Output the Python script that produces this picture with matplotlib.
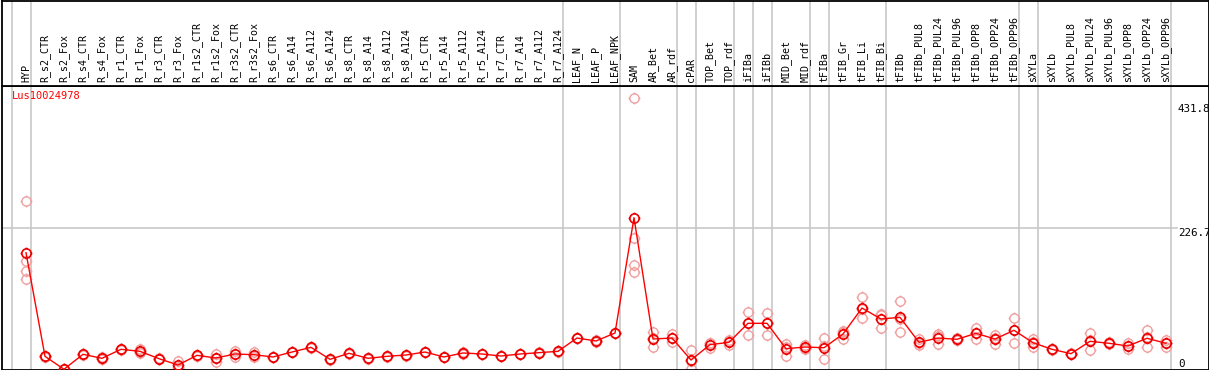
import matplotlib
matplotlib.use('Agg')
import matplotlib.pyplot as plt
from matplotlib.path import Path
from matplotlib.transforms import blended_transform_factory, offset_copy

gene = 'Lus10024978'

samples = ['HYP', 'R_s2_CTR', 'R_s2_Fox', 'R_s4_CTR', 'R_s4_Fox', 'R_r1_CTR', 'R_r1_Fox',
           'R_r3_CTR', 'R_r3_Fox', 'R_r1s2_CTR', 'R_r1s2_Fox', 'R_r3s2_CTR', 'R_r3s2_Fox',
           'R_s6_CTR', 'R_s6_A14', 'R_s6_A112', 'R_s6_A124', 'R_s8_CTR', 'R_s8_A14',
           'R_s8_A112', 'R_s8_A124', 'R_r5_CTR', 'R_r5_A14', 'R_r5_A112', 'R_r5_A124',
           'R_r7_CTR', 'R_r7_A14', 'R_r7_A112', 'R_r7_A124', 'LEAF_N', 'LEAF_P', 'LEAF_NPK',
           'SAM', 'AR_Bet', 'AR_rdf', 'cPAR', 'TOP_Bet', 'TOP_rdf', 'iFIBa', 'iFIBb',
           'MID_Bet', 'MID_rdf', 'tFIBa', 'tFIB_Gr', 'tFIB_Li', 'tFIB_Bi', 'tFIBb',
           'tFIBb_PUL8', 'tFIBb_PUL24', 'tFIBb_PUL96', 'tFIBb_OPP8', 'tFIBb_OPP24',
           'tFIBb_OPP96', 'sXYLa', 'sXYLb', 'sXYLb_PUL8', 'sXYLb_PUL24', 'sXYLb_PUL96',
           'sXYLb_OPP8', 'sXYLb_OPP24', 'sXYLb_OPP96']

# mean expression per sample
means = [188.2, 24.7, 4.3, 27.9, 21.6, 35.8, 32.6, 21.0, 11.0, 26.3, 22.1, 28.4, 27.3,
         23.7, 31.5, 38.9, 20.0, 29.5, 21.6, 24.7, 26.8, 31.5, 23.7, 30.0, 28.4,
         25.2, 28.4, 30.5, 32.6, 53.6, 48.9, 61.5,
         243.4, 52.0, 53.6, 18.9, 43.1, 46.8, 76.8, 76.8, 36.8, 39.4, 38.3, 59.9,
         100.9, 83.6, 86.2, 46.8, 53.6, 51.6, 61.0, 52.0, 65.8, 46.2, 35.8, 28.9,
         48.4, 45.3, 41.0, 53.2, 45.3]

# replicate values per sample
reps = [[269, 175, 159, 146], [26, 24, 24], [5, 4, 4], [29, 27, 28], [23, 21, 21],
        [36, 35, 37], [36, 30, 32], [22, 20, 21], [18, 8, 7], [27, 26, 26],
        [28, 16, 22], [33, 24, 28], [32, 23, 27], [24, 23, 24], [32, 31, 31],
        [39, 38, 40], [20, 19, 21], [30, 29, 30], [22, 21, 22], [25, 24, 25],
        [27, 26, 27], [32, 31, 32], [24, 23, 24], [30, 29, 31], [28, 28, 29],
        [25, 25, 26], [28, 28, 29], [30, 31, 30], [33, 32, 33], [54, 53, 54],
        [49, 48, 50], [62, 61, 61],
        [431.8, 211, 169, 157], [63, 53, 40], [60, 53, 48], [35, 18, 4],
        [46, 45, 38], [51, 47, 43], [95, 77, 59], [93, 78, 59], [44, 40, 26],
        [43, 38, 37], [54, 41, 20], [65, 63, 52], [119, 99, 85], [92, 90, 69],
        [112, 83, 63], [52, 46, 43], [60, 57, 44], [54, 51, 50], [70, 61, 52],
        [59, 53, 44], [85, 66, 46], [52, 47, 40], [37, 35, 36], [29, 28, 30],
        [61, 50, 34], [47, 45, 44], [46, 41, 36], [66, 55, 39], [51, 45, 40]]

# groups end after these sample indices
group_ends = [-1, 0, 28, 31, 34, 35, 37, 38, 39, 41, 42, 45, 52, 53, 60]

y_labels = [431.8, 226.7, 0]
y_nudge = [-6, 0, 13]  # px

W, H = 1209, 370
fig = plt.figure(figsize=(W / 100, H / 100), dpi=100)
plt.rcParams['font.family'] = ['DejaVu Sans Mono']

hdr_px = 85.5
xl = ((1.5 - 26) / 19, (1208.5 - 26) / 19)

ax = fig.add_axes([1.5 / W, 0.5 / H, 1207 / W, (H - hdr_px - 0.5) / H])
hx = fig.add_axes([1.5 / W, (H - hdr_px) / H, 1207 / W, (hdr_px - 0.5) / H])

for a in (ax, hx):
    a.set_xlim(*xl)
    a.set_xticks([])
    a.set_yticks([])
    for s in a.spines.values():
        s.set_color('black')
        s.set_linewidth(1.3)
    for g in group_ends:
        a.axvline(g + 4.5 / 19, color='#c8c8c8', lw=1.2, zorder=0)

ax.set_ylim((372 - 369.5) / 0.634, (372 - 85.5) / 0.634)
hx.set_ylim(0, 1)

ax.axhline(y_labels[1], xmin=0, xmax=(1177 - 1.5) / 1207, color='#c8c8c8', lw=1.2, zorder=0)

# header sample names
for i, name in enumerate(samples):
    hx.text(i, 3.5 / (hdr_px - 0.5), name, rotation=90, ha='center', va='bottom',
            fontsize=7.2, color='black')

# marker: circle with four small ticks
tick = 1.28
mk = Path.make_compound_path(
    Path.unit_circle(),
    Path([(0, 1), (0, tick)], [Path.MOVETO, Path.LINETO]),
    Path([(0, -1), (0, -tick)], [Path.MOVETO, Path.LINETO]),
    Path([(1, 0), (tick, 0)], [Path.MOVETO, Path.LINETO]),
    Path([(-1, 0), (-tick, 0)], [Path.MOVETO, Path.LINETO]))

for i, vals in enumerate(reps):
    ax.plot([i] * len(vals), vals, ls='none', marker=mk, ms=8.5, mfc='none',
            mec='#f0a0a0', mew=1.0, zorder=2)

x = list(range(len(samples)))
ax.plot(x, means, color='#ff0000', lw=1.0, zorder=3)
ax.plot(x, means, ls='none', marker=mk, ms=8.5, mfc='none', mec='#ee0000', mew=1.2, zorder=4)

ax.text(10 / 1207, 1 - 11 / (H - hdr_px), gene, transform=ax.transAxes, color='#ff0000',
        fontsize=7.5, ha='left', va='center')

tr = blended_transform_factory(ax.transAxes, ax.transData)
for v, dy in zip(y_labels, y_nudge):
    t = offset_copy(tr, fig=fig, x=0, y=dy * 0.72, units='points')
    lab = ('%.1f' % v) if v else '0'
    ax.text((1178 - 1.5) / 1207, v, lab, transform=t, ha='left', va='top',
            fontsize=7.8, color='black', clip_on=False)

fig.savefig('out.png', dpi=100)
